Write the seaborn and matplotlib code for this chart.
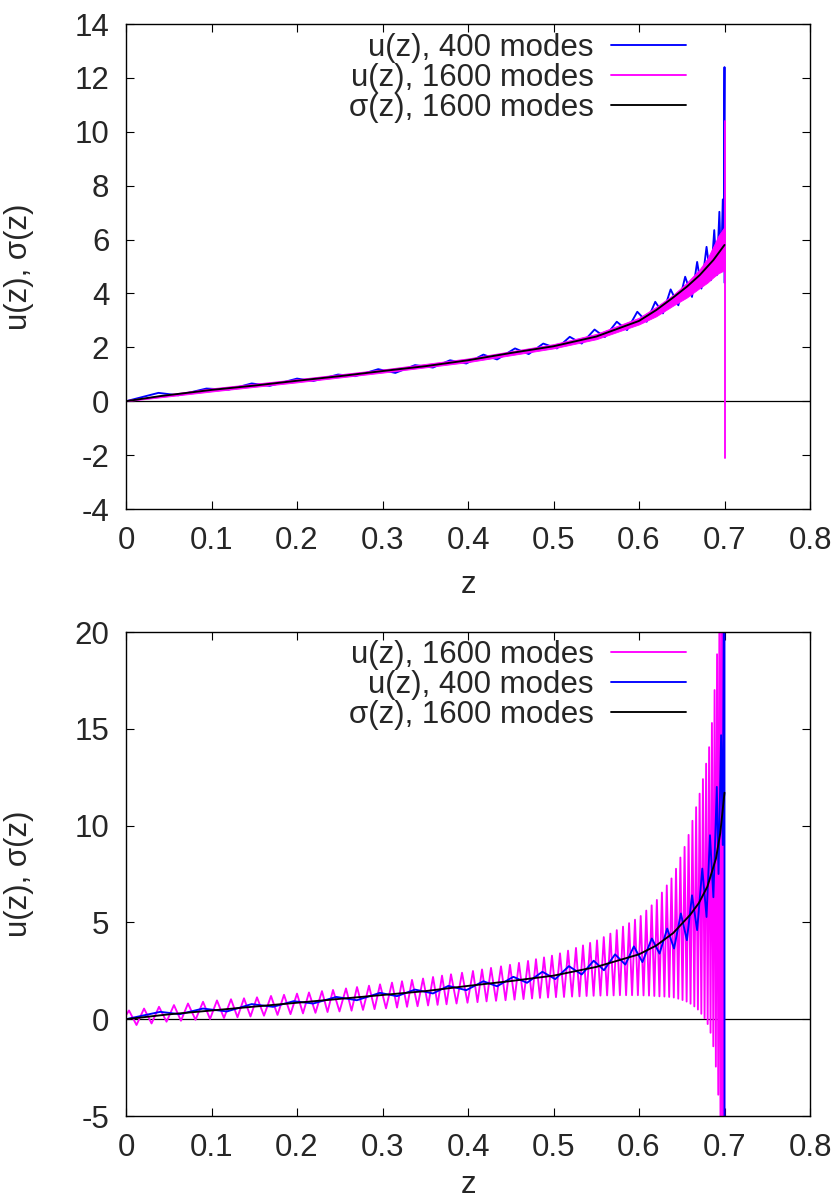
import matplotlib
matplotlib.use("Agg")
import matplotlib.pyplot as plt
import seaborn as sns

# ------------------------------------------------------------------
# Upper panel: mode expansions of u(z) and the reference sigma(z)
# ------------------------------------------------------------------
# sigma(z), 1600 modes
sigma_top_z = [0, 0.04, 0.1, 0.15, 0.2, 0.25, 0.3, 0.35, 0.4, 0.45, 0.5, 0.55,
               0.6, 0.62, 0.64, 0.656, 0.671, 0.687, 0.7]
sigma_top = [0, 0.19, 0.42, 0.58, 0.76, 0.93, 1.12, 1.3, 1.52, 1.79, 2.04, 2.4,
             2.98, 3.38, 3.85, 4.25, 4.68, 5.24, 5.8]

# u(z), 400 modes: successive maxima / minima of the ripple
u400_top_z = [0, 0.038, 0.061, 0.094, 0.120, 0.147, 0.168, 0.200, 0.219, 0.248,
              0.268, 0.295, 0.315, 0.338, 0.359, 0.379, 0.398, 0.418, 0.434,
              0.455, 0.471, 0.488, 0.504, 0.519, 0.533, 0.548, 0.560, 0.574,
              0.586, 0.598, 0.609, 0.619, 0.628, 0.637, 0.646, 0.654, 0.662,
              0.668, 0.673, 0.679, 0.684, 0.688, 0.691, 0.694, 0.696, 0.698,
              0.699, 0.7, 0.7]
u400_top = [0, 0.31, 0.22, 0.47, 0.43, 0.66, 0.57, 0.84, 0.75, 0.99,
            0.93, 1.19, 1.05, 1.34, 1.25, 1.52, 1.40, 1.73, 1.55,
            1.96, 1.75, 2.14, 1.96, 2.39, 2.14, 2.66, 2.38, 2.95,
            2.64, 3.32, 2.95, 3.69, 3.26, 4.15, 3.56, 4.62, 3.87,
            5.17, 4.18, 5.73, 4.49, 6.35, 4.68, 7.03, 4.86, 7.49,
            5.0, 12.4, 4.4]

# u(z), 1600 modes: fine ripple band (lower / upper extent) and end spike
u1600_top_z = [0, 0.1, 0.2, 0.3, 0.4, 0.5, 0.55, 0.6, 0.62, 0.64, 0.656,
               0.671, 0.68, 0.687, 0.693, 0.7]
u1600_top_lo = [0, 0.36, 0.70, 1.06, 1.45, 1.96, 2.3, 2.85, 3.15, 3.55, 3.85,
                4.2, 4.4, 4.6, 4.75, 4.86]
u1600_top_hi = [0.04, 0.48, 0.82, 1.18, 1.59, 2.12, 2.5, 3.1, 3.5, 3.95, 4.4,
                4.9, 5.3, 5.75, 6.15, 6.47]
u1600_top_spike_z = [0.7, 0.7]
u1600_top_spike = [10.4, -2.1]

# ------------------------------------------------------------------
# Lower panel
# ------------------------------------------------------------------
sigma_bot_z = [0, 0.05, 0.1, 0.15, 0.2, 0.25, 0.3, 0.35, 0.4, 0.45, 0.5, 0.55,
               0.6, 0.62, 0.64, 0.66, 0.67, 0.68, 0.69, 0.695, 0.7]
sigma_bot = [0, 0.25, 0.45, 0.65, 0.85, 1.05, 1.25, 1.45, 1.72, 1.97, 2.25, 2.7,
             3.35, 3.8, 4.45, 5.4, 6.0, 6.85, 8.3, 9.6, 11.7]

u400_bot_z = [0, 0.040, 0.063, 0.090, 0.118, 0.147, 0.172, 0.196, 0.219, 0.246,
              0.270, 0.297, 0.317, 0.338, 0.359, 0.377, 0.398, 0.418, 0.434,
              0.453, 0.469, 0.487, 0.502, 0.518, 0.533, 0.547, 0.559, 0.572,
              0.584, 0.594, 0.604, 0.615, 0.624, 0.633, 0.641, 0.649, 0.656,
              0.662, 0.668, 0.674, 0.679, 0.683, 0.687, 0.691, 0.693, 0.696,
              0.698, 0.7, 0.7]
u400_bot = [0, 0.38, 0.26, 0.55, 0.40, 0.78, 0.64, 0.93, 0.81, 1.15,
            0.98, 1.36, 1.19, 1.53, 1.33, 1.72, 1.50, 1.96, 1.70,
            2.19, 1.88, 2.45, 2.07, 2.74, 2.31, 3.02, 2.53, 3.35,
            2.82, 3.76, 2.95, 4.17, 3.39, 4.68, 3.65, 5.46, 4.08,
            6.4, 4.6, 7.78, 5.28, 9.5, 6.3, 12.0, 7.5, 14.67,
            9.0, 30.0, -10.0]

# u(z), 1600 modes: positions and heights of maxima and of minima
u1600_start = [0.0, 0.2]
u1600_max_z = [0.0035, 0.0211, 0.0386, 0.0561, 0.0725, 0.0901, 0.1064, 0.1228,
               0.1380, 0.1532, 0.1696, 0.1848, 0.2000, 0.2140, 0.2292, 0.2421,
               0.2573, 0.2702, 0.2842, 0.2971, 0.3111, 0.3228, 0.3345, 0.3474,
               0.3591, 0.3696, 0.3801, 0.3930, 0.4058, 0.4164, 0.4269, 0.4386,
               0.4491, 0.4596, 0.4702, 0.4795, 0.4889, 0.4982, 0.5076, 0.5170,
               0.5263, 0.5345, 0.5428, 0.5509, 0.5588, 0.5665, 0.5740, 0.5813,
               0.5884, 0.5953, 0.6020, 0.6085, 0.6148, 0.6209, 0.6268, 0.6325,
               0.6380, 0.6433, 0.6484, 0.6533, 0.6580, 0.6625, 0.6668, 0.6709,
               0.6748, 0.6785, 0.6820, 0.6853, 0.6884, 0.6913, 0.6940, 0.6965,
               0.6988]
u1600_max = [0.45, 0.55, 0.64, 0.73, 0.81, 0.90, 0.97, 1.03,
             1.08, 1.13, 1.20, 1.26, 1.32, 1.38, 1.45, 1.51,
             1.59, 1.66, 1.73, 1.80, 1.89, 1.96, 2.03, 2.10,
             2.18, 2.25, 2.32, 2.40, 2.49, 2.57, 2.65, 2.73,
             2.81, 2.91, 3.01, 3.10, 3.19, 3.28, 3.40, 3.54,
             3.68, 3.81, 3.94, 4.07, 4.24, 4.42, 4.60, 4.78,
             4.96, 5.14, 5.33, 5.61, 5.88, 6.16, 6.54, 6.91,
             7.27, 7.77, 8.35, 8.90, 9.52, 10.25, 10.95, 11.65,
             12.4, 13.2, 14.05, 15.3, 17.0, 18.85, 20.5, 22.5,
             24.3]
u1600_min_z = [0.0123, 0.0299, 0.0474, 0.0643, 0.0813, 0.0983, 0.1146, 0.1304,
               0.1456, 0.1614, 0.1772, 0.1924, 0.2070, 0.2216, 0.2357, 0.2497,
               0.2638, 0.2772, 0.2907, 0.3041, 0.3170, 0.3287, 0.3410, 0.3533,
               0.3644, 0.3749, 0.3866, 0.3994, 0.4111, 0.4217, 0.4328, 0.4439,
               0.4544, 0.4649, 0.4749, 0.4842, 0.4936, 0.5029, 0.5123, 0.5217,
               0.5304, 0.5387, 0.5469, 0.5549, 0.5627, 0.5703, 0.5777, 0.5849,
               0.5919, 0.5987, 0.6053, 0.6117, 0.6179, 0.6239, 0.6297, 0.6353,
               0.6407, 0.6459, 0.6509, 0.6557, 0.6603, 0.6647, 0.6689, 0.6729,
               0.6767, 0.6803, 0.6837, 0.6869, 0.6899, 0.6927, 0.6953, 0.6977,
               0.6999]
u1600_min = [-0.30, -0.22, -0.13, -0.08, -0.03, 0.01, 0.06, 0.10,
             0.14, 0.18, 0.22, 0.26, 0.30, 0.33, 0.37, 0.40,
             0.44, 0.48, 0.52, 0.56, 0.60, 0.64, 0.67, 0.71,
             0.74, 0.77, 0.81, 0.85, 0.88, 0.92, 0.95, 0.98,
             1.01, 1.04, 1.07, 1.10, 1.12, 1.14, 1.15, 1.17,
             1.18, 1.20, 1.21, 1.22, 1.23, 1.23, 1.24, 1.24,
             1.24, 1.24, 1.23, 1.22, 1.20, 1.18, 1.17, 1.15,
             1.12, 1.06, 0.99, 0.91, 0.80, 0.66, 0.50, 0.28,
             0.05, -0.25, -0.70, -1.40, -2.45, -3.90, -5.6, -7.5,
             -9.0]

x_ticks = [0, 0.1, 0.2, 0.3, 0.4, 0.5, 0.6, 0.7, 0.8]
x_ticklabels = ["0", "0.1", "0.2", "0.3", "0.4", "0.5", "0.6", "0.7", "0.8"]
y_ticks_top = [-4, -2, 0, 2, 4, 6, 8, 10, 12, 14]
y_ticks_bot = [-5, 0, 5, 10, 15, 20]

# ------------------------------------------------------------------
sns.set_style("ticks")
plt.rcParams["font.family"] = ["Liberation Sans", "DejaVu Sans"]
plt.rcParams["axes.unicode_minus"] = False

BLUE = "#0000ff"
MAG = "#ff00ff"
BLK = "#000000"
LW = 1.35
FS = 22.5

fig = plt.figure(figsize=(8.36, 11.99), dpi=100)
ax1 = fig.add_axes([126 / 836, 1 - 509 / 1199, 684 / 836, 485 / 1199])
ax2 = fig.add_axes([126 / 836, 1 - 1116 / 1199, 684 / 836, 484 / 1199])


def line(ax, x, y, color, label=None):
    sns.lineplot(x=x, y=y, ax=ax, color=color, lw=LW, estimator=None,
                 sort=False, label=label, legend=False)


def interleave(start, xa, ya, xb, yb):
    xs, ys = [start[0]], [start[1]]
    for a, b, c, d in zip(xa, ya, xb, yb):
        xs += [a, c]
        ys += [b, d]
    return xs, ys


# upper panel
line(ax1, u400_top_z, u400_top, BLUE, "u(z), 400 modes")
ax1.fill_between(u1600_top_z, u1600_top_lo, u1600_top_hi, color=MAG,
                 lw=0.6, edgecolor=MAG, zorder=2)
line(ax1, u1600_top_spike_z, u1600_top_spike, MAG, "u(z), 1600 modes")
line(ax1, sigma_top_z, sigma_top, BLK, "σ(z), 1600 modes")

# lower panel
mz, mv = interleave(u1600_start, u1600_max_z, u1600_max, u1600_min_z, u1600_min)
line(ax2, mz, mv, MAG, "u(z), 1600 modes")
line(ax2, u400_bot_z, u400_bot, BLUE, "u(z), 400 modes")
line(ax2, sigma_bot_z, sigma_bot, BLK, "σ(z), 1600 modes")

for ax, ylim, yt, xl_y in ((ax1, (-4, 14), y_ticks_top, -0.125),
                           (ax2, (-5, 20), y_ticks_bot, -0.112)):
    ax.axhline(0, color=BLK, lw=0.9, zorder=1.5)
    ax.set_xlim(0, 0.8)
    ax.set_ylim(*ylim)
    ax.set_xticks(x_ticks)
    ax.set_xticklabels(x_ticklabels)
    ax.set_yticks(yt)
    ax.set_yticklabels([str(v) for v in yt])
    ax.tick_params(direction="in", length=6, width=0.8, top=True, right=True,
                   labelsize=FS, pad=12, color=BLK)
    for s in ax.spines.values():
        s.set_color(BLK)
        s.set_linewidth(1.0)
    ax.set_xlabel("z", fontsize=FS)
    ax.set_ylabel("u(z), σ(z)", fontsize=FS)
    ax.xaxis.set_label_coords(0.5, xl_y)
    ax.yaxis.set_label_coords(-0.135, 0.5)
    handles, labels = ax.get_legend_handles_labels()
    ax.legend(handles, labels, loc="upper right", frameon=False,
              markerfirst=False, fontsize=FS, handlelength=2.4,
              handletextpad=0.55, labelspacing=0.0, borderpad=0,
              borderaxespad=0)

# place the legends near the top of each panel
ax1.get_legend().set_bbox_to_anchor((686 / 836, 1 - 33 / 1199), transform=fig.transFigure)
ax2.get_legend().set_bbox_to_anchor((686 / 836, 1 - 640 / 1199), transform=fig.transFigure)

fig.savefig("out.png", dpi=100)
